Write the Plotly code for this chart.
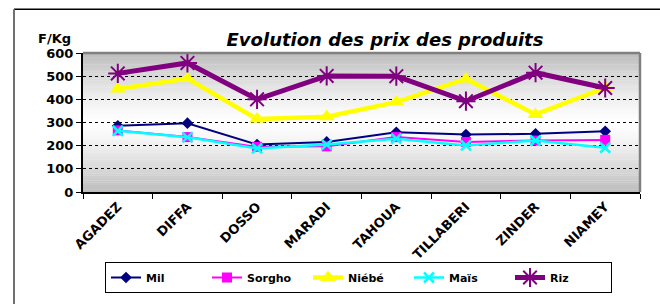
import plotly.graph_objects as go

categories = ["AGADEZ", "DIFFA", "DOSSO", "MARADI", "TAHOUA", "TILLABERI", "ZINDER", "NIAMEY"]
mil = [286, 297, 205, 216, 258, 248, 251, 262]
sorgho = [266, 237, 195, 197, 237, 216, 222, 225]
niebe = [445, 490, 315, 325, 388, 488, 335, 450]
mais = [264, 236, 188, 205, 230, 201, 222, 191]
riz = [512, 557, 400, 501, 500, 392, 515, 449]
y_ticks = [0, 100, 200, 300, 400, 500, 600]

FONT = "DejaVu Sans"
W, H = 660, 304
L, R, T, B = 83, 20, 53, 111
pw, ph = W - L - R, H - T - B

def px_x(x):
    return (x - L) / pw

def px_y(y):
    return (H - B - y) / ph

fig = go.Figure()

series = [
    ("Mil", mil, "#000080", "diamond", 9, 2, dict()),
    ("Sorgho", sorgho, "#FF00FF", "square", 10, 2, dict()),
    ("Niébé", niebe, "#FFFF00", "triangle-up", 14, 4.5, dict()),
    ("Maïs", mais, "#00FFFF", "x-thin-open", 10, 2.5, dict(line=dict(color="#00FFFF", width=2.5))),
    ("Riz", riz, "#800080", "asterisk-open", 16, 5, dict(line=dict(color="#800080", width=2))),
]
for name, vals, col, sym, size, lw, extra in series:
    fig.add_trace(go.Scatter(
        x=categories, y=vals, name=f"<b>{name}</b>", mode="lines+markers",
        line=dict(color=col, width=lw),
        marker=dict(symbol=sym, size=size, color=col, **extra),
    ))

shapes = []
n = 60
for i in range(n):
    t0, t1 = i / n, (i + 1) / n
    tm = (t0 + t1) / 2
    d = abs(2 * tm - 1)
    g = int(round(255 - (255 - 188) * d ** 1.3))
    shapes.append(dict(type="rect", xref="x domain", yref="y domain",
                       x0=0, x1=1, y0=t0, y1=t1 + 0.002, layer="below",
                       line=dict(width=0), fillcolor=f"rgb({g},{g},{g})"))
# plot frame (top/right gray)
shapes.append(dict(type="line", xref="x domain", yref="y domain", x0=0, x1=1, y0=1, y1=1,
                   line=dict(color="#808080", width=2.5), layer="above"))
shapes.append(dict(type="line", xref="x domain", yref="y domain", x0=1, x1=1, y0=0, y1=1,
                   line=dict(color="#808080", width=2.5), layer="above"))
# outer chart border
shapes.append(dict(type="line", xref="paper", yref="paper", x0=px_x(14), x1=px_x(662),
                   y0=px_y(9), y1=px_y(9), line=dict(color="#000000", width=1.5)))
shapes.append(dict(type="line", xref="paper", yref="paper", x0=px_x(14), x1=px_x(14),
                   y0=px_y(9), y1=px_y(306), line=dict(color="#707070", width=2)))

fig.update_layout(
    width=W, height=H,
    margin=dict(l=L, r=R, t=T, b=B),
    paper_bgcolor="white", plot_bgcolor="white",
    font=dict(family=FONT, color="black"),
    shapes=shapes,
    title=dict(text="<b><i>Evolution des prix des produits</i></b>",
               font=dict(size=18, family=FONT, color="black"),
               x=px_x(385), xref="paper", xanchor="center",
               y=1 - 40 / H, yref="container", yanchor="middle"),
    annotations=[dict(text="<b>F/Kg</b>", xref="paper", yref="paper",
                      x=px_x(54), y=px_y(38), showarrow=False,
                      font=dict(size=13, family=FONT, color="black"),
                      xanchor="center", yanchor="middle")],
    showlegend=True,
    legend=dict(orientation="h", x=px_x(105), y=px_y(262), xanchor="left", yanchor="top",
                bordercolor="black", borderwidth=1, bgcolor="white",
                font=dict(size=11, family=FONT, color="black"),
                tracegroupgap=0, itemwidth=30,
                entrywidth=56, entrywidthmode="pixels"),
)
fig.update_xaxes(
    type="category", range=[-0.5, 7.5], tickson="boundaries",
    ticks="outside", ticklen=5, tickcolor="black", tickwidth=1,
    showline=True, linecolor="black", linewidth=2,
    showgrid=False, tickangle=-45,
    tickfont=dict(size=13, family=FONT, color="black"),
    tickprefix="<b>", ticksuffix="</b>",
)
fig.update_yaxes(
    range=[0, 600], tickvals=y_ticks, ticktext=[f"<b>{v}</b>" for v in y_ticks],
    ticks="outside", ticklen=5, tickcolor="black", tickwidth=1,
    showline=True, linecolor="black", linewidth=2,
    showgrid=True, gridcolor="#000000", gridwidth=1, griddash="dot",
    zeroline=False,
    tickfont=dict(size=13, family=FONT, color="black"),
)
fig.write_html("out.html", config={"displayModeBar": False},
               post_script="document.body.style.margin='0';")
